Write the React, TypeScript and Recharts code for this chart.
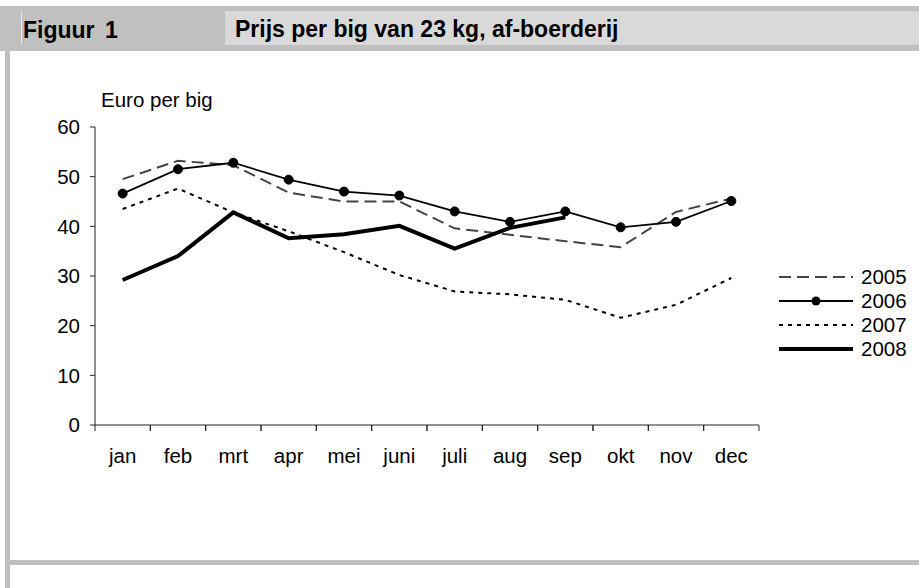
import React from 'react';
import { LineChart, Line, XAxis, YAxis, Legend } from 'recharts';

const months = ['jan', 'feb', 'mrt', 'apr', 'mei', 'juni', 'juli', 'aug', 'sep', 'okt', 'nov', 'dec'];
const prices2005 = [49.5, 53.2, 52.3, 46.8, 45.0, 45.0, 39.6, 38.3, 37.0, 35.8, 42.9, 45.6];
const prices2006 = [46.6, 51.5, 52.8, 49.4, 47.0, 46.2, 43.0, 40.9, 43.0, 39.8, 40.9, 45.1];
const prices2007 = [43.5, 47.6, 42.8, 39.0, 34.8, 30.2, 26.9, 26.3, 25.2, 21.6, 24.2, 29.6];
const prices2008 = [29.2, 34.0, 42.8, 37.6, 38.4, 40.1, 35.5, 39.7, 41.8, null, null, null];
const yTicks = [0, 10, 20, 30, 40, 50, 60];

const data = months.map((m, i) => ({
  month: m,
  y2005: prices2005[i],
  y2006: prices2006[i],
  y2007: prices2007[i],
  y2008: prices2008[i],
}));

const FONT = '"Liberation Sans", Arial, sans-serif';
const FS = 20.5;
const GRAY = '#c0c0c0';
const TICK = 6;
const TICK_GAP = 17;

// line styles, shared by plot and legend
const series = [
  { key: 'y2005', label: '2005', stroke: '#444', width: 2, dash: '12 6', dot: false },
  { key: 'y2006', label: '2006', stroke: '#000', width: 1.8, dash: undefined, dot: true },
  { key: 'y2007', label: '2007', stroke: '#000', width: 2, dash: '4 5', dot: false },
  { key: 'y2008', label: '2008', stroke: '#000', width: 4, dash: undefined, dot: false },
];

function MonthTick(props: any) {
  const { x, y, payload } = props;
  const half = payload && payload.offset ? payload.offset : 27.7;
  const top = y - TICK_GAP - TICK;
  return (
    <g>
      <line x1={x - half} y1={top} x2={x - half} y2={top + TICK} stroke="#222" />
      <line x1={x + half} y1={top} x2={x + half} y2={top + TICK} stroke="#222" />
      <text x={x} y={y} dy="0.71em" textAnchor="middle" fill="#000" fontSize={FS} fontFamily={FONT}>
        {payload.value}
      </text>
    </g>
  );
}

function LegendBox() {
  return (
    <div style={{ display: 'flex', flexDirection: 'column' }}>
      {series.map((s) => (
        <div key={s.key} style={{ display: 'flex', alignItems: 'center', height: 24 }}>
          <svg width={74} height={24}>
            <line x1={0} y1={12} x2={74} y2={12} stroke={s.stroke} strokeWidth={s.width} strokeDasharray={s.dash} />
            {s.dot && <circle cx={37} cy={12} r={4.5} fill="#000" />}
          </svg>
          <span style={{ marginLeft: 8, fontSize: FS, lineHeight: '24px', fontFamily: FONT, color: '#000' }}>
            {s.label}
          </span>
        </div>
      ))}
    </div>
  );
}

export default function App() {
  return (
    <div style={{ position: 'absolute', left: 0, top: 0, width: 919, height: 588, background: '#fff', overflow: 'hidden' }}>
      <div style={{ position: 'absolute', left: 0, top: 6, width: 919, height: 45, background: GRAY }} />
      <div style={{ position: 'absolute', left: 225, top: 11, width: 694, height: 34, background: '#d9d9d9' }} />
      <div style={{ position: 'absolute', left: 21, top: 11, width: 1, height: 33, background: '#e6e6e6' }} />
      <div style={{ position: 'absolute', left: 5, top: 51, width: 5, height: 537, background: GRAY }} />
      <div style={{ position: 'absolute', left: 5, top: 560, width: 914, height: 5, background: GRAY }} />
      <div
        style={{
          position: 'absolute', left: 23, top: 17, fontFamily: FONT,
          fontWeight: 'bold', fontSize: 23, lineHeight: '26px', color: '#000', wordSpacing: 4,
        }}
      >
        Figuur 1
      </div>
      <div
        style={{
          position: 'absolute', left: 235, top: 16, fontFamily: FONT,
          fontWeight: 'bold', fontSize: 23, lineHeight: '26px', color: '#000',
        }}
      >
        Prijs per big van 23 kg, af-boerderij
      </div>
      <div style={{ position: 'absolute', left: 101, top: 89, fontFamily: FONT, fontSize: FS, lineHeight: '22px', color: '#000' }}>
        Euro per big
      </div>

      <div style={{ position: 'absolute', left: 0, top: 0 }}>
        <LineChart width={919} height={588} data={data} margin={{ top: 127, right: 160, bottom: 123, left: 0 }}>
          <XAxis
            dataKey="month"
            scale="band"
            height={40}
            axisLine={{ stroke: '#222' }}
            tickLine={false}
            tickSize={TICK}
            tickMargin={TICK_GAP}
            tick={<MonthTick />}
            interval={0}
          />
          <YAxis
            domain={[0, 60]}
            ticks={yTicks}
            width={95}
            axisLine={{ stroke: '#222' }}
            tickLine={{ stroke: '#222' }}
            tickSize={5}
            tickMargin={10}
            tick={{ fill: '#000', fontSize: FS, fontFamily: FONT }}
          />
          <Legend
            layout="horizontal"
            verticalAlign="middle"
            align="center"
            content={<LegendBox />}
            wrapperStyle={{ left: 779, top: 265, width: 140 }}
          />
          {series.map((s) => (
            <Line
              key={s.key}
              dataKey={s.key}
              name={s.label}
              type="linear"
              stroke={s.stroke}
              strokeWidth={s.width}
              strokeDasharray={s.dash}
              dot={s.dot ? { r: 4.5, fill: '#000', stroke: '#000', strokeWidth: 1 } : false}
              activeDot={false}
              connectNulls={false}
              isAnimationActive={false}
            />
          ))}
        </LineChart>
      </div>
    </div>
  );
}
